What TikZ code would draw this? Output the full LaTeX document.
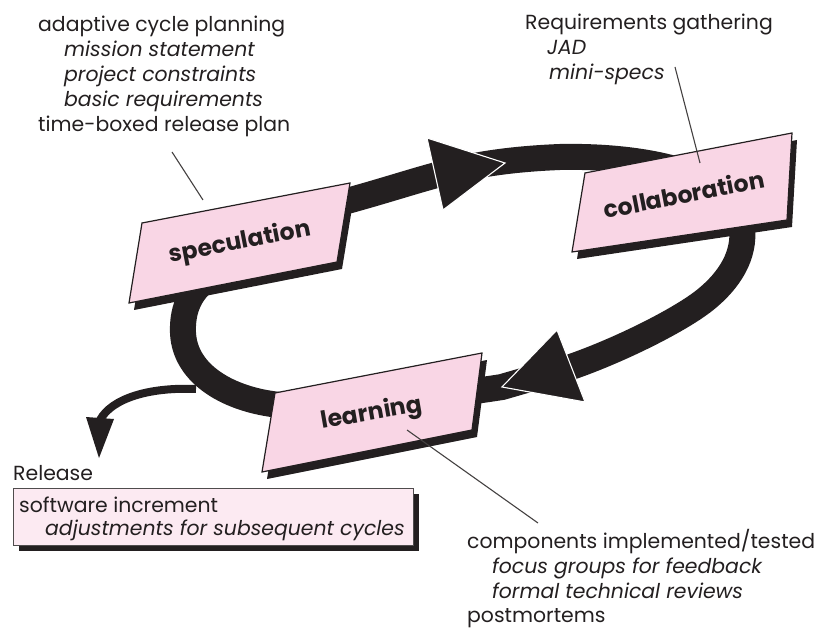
\documentclass[tikz,border=0pt]{standalone}
\usepackage{fontspec}
\setmainfont{Poppins}
\definecolor{boxpink}{RGB}{249,214,229}
\definecolor{relpink}{RGB}{252,234,242}
\definecolor{ink}{RGB}{35,31,32}
\tikzset{
  band/.style={draw=ink, line width=26pt, line cap=butt},
  headtri/.style={fill=ink, draw=white, line width=1.1pt, line join=miter},
  pbox/.style={fill=boxpink, draw=ink, line width=1.2pt, line join=miter},
  shadow/.style={fill=ink},
  boxlabel/.style={font=\fontsize{23.5}{26}\selectfont\bfseries, text=ink, inner sep=0pt},
  callout/.style={font=\fontsize{20.4}{25}\selectfont, text=ink, anchor=base west, inner sep=0pt},
  pointer/.style={draw=ink!85, line width=1.1pt}
}
\begin{document}
\begin{tikzpicture}[x=1pt, y=-1pt]
\useasboundingbox (0,0) rectangle (817,628);

% ---- cycle band ----
\coordinate (p0) at (300,212);
\coordinate (a1base) at (433,176);
\coordinate (a1tip) at (505,163);
\coordinate (top) at (560,157);
\coordinate (rc) at (742,228);
\coordinate (rd) at (705,300);
\coordinate (a2base) at (571,367);
\coordinate (a2tip) at (502,387);
\coordinate (lc) at (280,405);
\coordinate (lb) at (183,333);
\coordinate (la) at (200,285);
\draw[band] (p0) .. controls (340,205) and (400,185) .. (a1base)
  .. controls (470,165) and (510,159) .. (top)
  .. controls (660,155) and (745,180) .. (rc)
  .. controls (745,255) and (730,280) .. (rd)
  .. controls (680,320) and (620,350) .. (a2base)
  -- (a2tip)
  .. controls (420,400) and (330,405) .. (lc)
  .. controls (230,400) and (185,375) .. (lb)
  .. controls (182,310) and (190,295) .. (la)
  .. controls (230,250) and (270,225) .. (p0);

% release arrow
\coordinate (relstart) at (196,389);
\coordinate (relend) at (100,420);
\draw[ink, line width=8pt] (relstart) .. controls (150,387) and (112,398) .. (relend);
\fill[ink] (86,417) -- (114,419) -- (99,458) -- cycle;

% arrowheads
\path[headtri] (a1tip) -- (427,138) -- (443,210) -- cycle;
\path[headtri] (a2tip) -- (557,330) -- (585,402) -- cycle;

% ---- boxes ----
\fill[shadow, shift={(5,7)}] (142,223) -- (350,183) -- (337,262) -- (129,303) -- cycle;
\path[pbox] (142,223) -- (350,183) -- (337,262) -- (129,303) -- cycle;
\node[boxlabel, rotate=11] (spec) at (240,243) {speculation};

\fill[shadow, shift={(5,7)}] (585,173) -- (792,133) -- (787,220) -- (572,252) -- cycle;
\path[pbox] (585,173) -- (792,133) -- (787,220) -- (572,252) -- cycle;
\node[boxlabel, rotate=11] (coll) at (684,194) {collaboration};

\fill[shadow, shift={(5,7)}] (275,393) -- (482,353) -- (472,430) -- (262,472) -- cycle;
\path[pbox] (275,393) -- (482,353) -- (472,430) -- (262,472) -- cycle;
\node[boxlabel, rotate=10] (learn) at (372,414) {learning};

% release box
\fill[shadow] (19,494) rectangle (419,551);
\draw[fill=relpink, draw=ink!80, line width=1pt] (13,488) rectangle (413,545);

% ---- callout texts ----
\node[callout] (t1) at (38,32) {adaptive cycle planning};
\node[callout] (t2) at (64,57) {\itshape mission statement};
\node[callout] (t3) at (64,82) {\itshape project constraints};
\node[callout] (t4) at (64,107) {\itshape basic requirements};
\node[callout] (t5) at (38,132) {time-boxed release plan};

\node[callout] (r1) at (525,30) {Requirements gathering};
\node[callout] (r2) at (547,55) {\itshape JAD};
\node[callout] (r3) at (549,80) {\itshape mini-specs};

\node[callout] (c1) at (467,548) {components implemented/tested};
\node[callout] (c2) at (492,573) {\itshape focus groups for feedback};
\node[callout] (c3) at (492,598) {\itshape formal technical reviews};
\node[callout] (c4) at (467,622) {postmortems};

\node[callout] (rel) at (13,480) {Release};
\node[callout] (s1) at (19,512) {software increment};
\node[callout] (s2) at (45,535) {\itshape adjustments for subsequent cycles};

% pointers
\coordinate (q1a) at (172,152); \coordinate (q1b) at (203,200);
\coordinate (q2a) at (675,67);  \coordinate (q2b) at (700,163);
\coordinate (q3a) at (407,430); \coordinate (q3b) at (538,523);
\draw[pointer] (q1a) -- (q1b);
\draw[pointer] (q2a) -- (q2b);
\draw[pointer] (q3a) -- (q3b);
\end{tikzpicture}
\end{document}
